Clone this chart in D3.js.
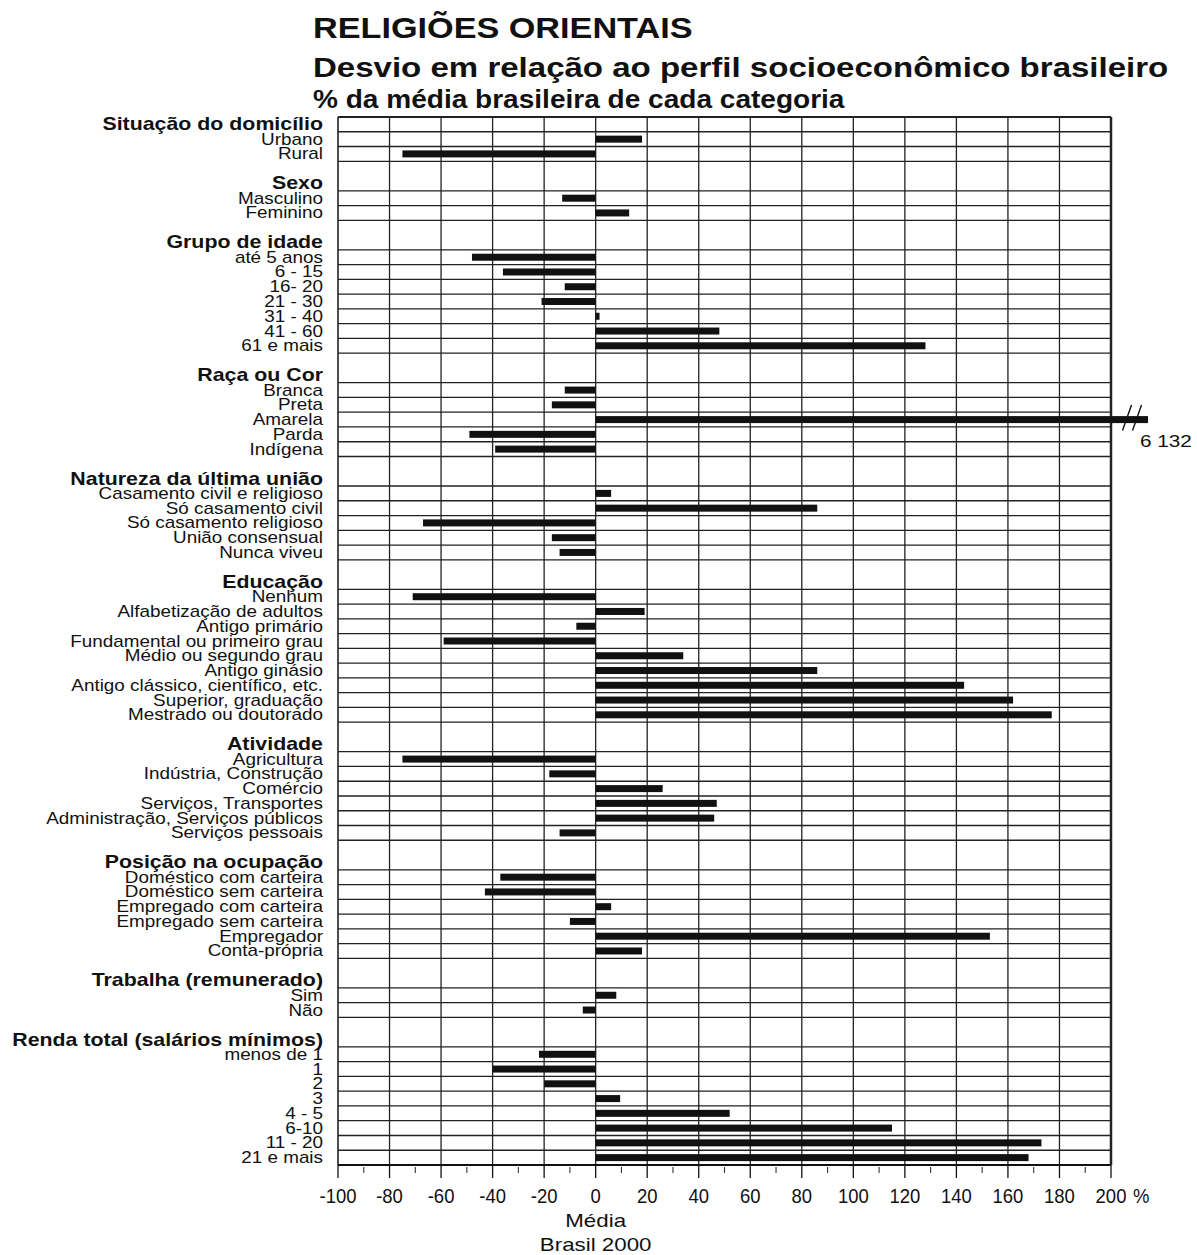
<!DOCTYPE html>
<html><head><meta charset="utf-8">
<script src="https://cdn.jsdelivr.net/npm/d3@7"></script>
<style>
body{margin:0;background:#fff}
svg{display:block}
text{font-family:"Liberation Sans",Arial,Helvetica,sans-serif;fill:#111}
</style>
</head><body>
<svg id="c" width="1197" height="1255"></svg>
<script>
// ---------------- DATA ----------------
const titleLines = [
  "RELIGIÕES ORIENTAIS",
  "Desvio em relação ao perfil socioeconômico brasileiro",
  "% da média brasileira de cada categoria"
];
const groupTitles = [
  "Situação do domicílio", "Sexo", "Grupo de idade", "Raça ou Cor",
  "Natureza da última união", "Educação", "Atividade",
  "Posição na ocupação", "Trabalha (remunerado)", "Renda total (salários mínimos)"
];
const categories = [
  ["Urbano", "Rural"],
  ["Masculino", "Feminino"],
  ["até 5 anos", "6 - 15", "16- 20", "21 - 30", "31 - 40", "41 - 60", "61 e mais"],
  ["Branca", "Preta", "Amarela", "Parda", "Indígena"],
  ["Casamento civil e religioso", "Só casamento civil", "Só casamento religioso", "União consensual", "Nunca viveu"],
  ["Nenhum", "Alfabetização de adultos", "Antigo primário", "Fundamental ou primeiro grau",
   "Médio ou segundo grau", "Antigo ginásio", "Antigo clássico, científico, etc.",
   "Superior, graduação", "Mestrado ou doutorado"],
  ["Agricultura", "Indústria, Construção", "Comércio", "Serviços, Transportes",
   "Administração, Serviços públicos", "Serviços pessoais"],
  ["Doméstico com carteira", "Doméstico sem carteira", "Empregado com carteira",
   "Empregado sem carteira", "Empregador", "Conta-própria"],
  ["Sim", "Não"],
  ["menos de 1", "1", "2", "3", "4 - 5", "6-10", "11 - 20", "21 e mais"]
];
const values = [
  [18, -75],
  [-13, 13],
  [-48, -36, -12, -21, 1.5, 48, 128],
  [-12, -17, 6132, -49, -39],
  [6, 86, -67, -17, -14],
  [-71, 19, -7.5, -59, 34, 86, 143, 162, 177],
  [-75, -18, 26, 47, 46, -14],
  [-37, -43, 6, -10, 153, 18],
  [8, -5],
  [-22, -40, -20, 9.5, 52, 115, 173, 168]
];
const majorTicks = [-100, -80, -60, -40, -20, 0, 20, 40, 60, 80, 100, 120, 140, 160, 180, 200];
const minorTicks = [-90, -70, -50, -30, -10, 10, 30, 50, 70, 90, 110, 130, 150, 170, 190];
const brokenLabel = "6 132";
const unitLabel = "%";
const axisTitle = ["Média", "Brasil 2000"];

// ---------------- LAYOUT ----------------
const svg = d3.select("#c");
const x = d3.scaleLinear().domain([-100, 200]).range([338, 1111]);

const rows = [];
let u = 0;
groupTitles.forEach((g, i) => {
  const h = i === 0 ? 1 : 2;
  rows.push({type: "header", label: g, u0: u, u1: u + h});
  u += h;
  categories[i].forEach((c, j) => {
    rows.push({type: "cat", label: c, value: values[i][j], u0: u, u1: u + 1});
    u += 1;
  });
});
const totalUnits = u;
const y = d3.scaleLinear().domain([0, totalUnits]).range([117, 1165]);

function stretched(sel, tx, ty, sx) {
  sel.attr("x", 0).attr("y", 0).attr("transform", `translate(${tx},${ty}) scale(${sx},1)`);
  return sel;
}

// Titles
const titleSizes = [29, 28, 25.5];
const titleScale = [1.18, 1.18, 1.1];
const titleBase = [38, 77, 108];
titleLines.forEach((t, i) => {
  stretched(svg.append("text").text(t), 313, titleBase[i], titleScale[i])
    .attr("font-size", titleSizes[i]).attr("font-weight", "bold");
});

// Grid
const grid = svg.append("g");
const boundaries = rows.map(r => r.u0).concat([totalUnits]);
grid.selectAll("line.h").data(boundaries).join("line")
  .attr("x1", x(-100)).attr("x2", x(200))
  .attr("y1", d => y(d)).attr("y2", d => y(d))
  .attr("stroke", "#222").attr("stroke-width", (d) => d === 0 ? 2 : 1.3);
grid.selectAll("line.v").data(majorTicks).join("line")
  .attr("y1", y(0)).attr("y2", y(totalUnits))
  .attr("x1", d => x(d)).attr("x2", d => x(d))
  .attr("stroke", "#222").attr("stroke-width", d => d === 200 ? 2.5 : (d === -100 ? 1.6 : 1.3));

// Labels
const lab = svg.append("g");
rows.forEach(r => {
  if (r.type === "header") {
    stretched(lab.append("text").text(r.label), 323, y(r.u1 - 0.5) + 6, 1.22)
      .attr("text-anchor", "end").attr("font-size", 17.5).attr("font-weight", "bold");
  } else {
    stretched(lab.append("text").text(r.label), 323, y(r.u0 + 0.5) + 5.5, 1.18)
      .attr("text-anchor", "end").attr("font-size", 16);
  }
});

// Bars
const catRows = rows.filter(r => r.type === "cat");
const maxV = x.domain()[1];
const breakExtra = 37;
const barH = 7;
svg.append("g").selectAll("rect").data(catRows).join("rect")
  .attr("x", d => Math.min(x(0), x(d.value)))
  .attr("width", d => d.value > maxV ? (x(maxV) + breakExtra - x(0)) : Math.abs(x(d.value) - x(0)))
  .attr("y", d => y(d.u0 + 0.5) - barH / 2)
  .attr("height", barH)
  .attr("fill", "#111");

// Break marks for values beyond the axis
const broken = catRows.filter(d => d.value > maxV);
broken.forEach(d => {
  const cy = y(d.u0 + 0.5);
  const bx = x(maxV);
  [0, 10].forEach(off => {
    svg.append("line")
      .attr("x1", bx + 11.5 + off).attr("y1", cy + 11)
      .attr("x2", bx + 20.5 + off).attr("y2", cy - 14.5)
      .attr("stroke", "#111").attr("stroke-width", 1.4);
  });
  stretched(svg.append("text").text(brokenLabel), bx + 29, cy + 27.5, 1.22)
    .attr("font-size", 17);
});

// Bottom axis
const ax = svg.append("g");
const yAxis = y(totalUnits);
ax.append("line").attr("x1", x(-100)).attr("x2", x(200))
  .attr("y1", yAxis).attr("y2", yAxis).attr("stroke", "#111").attr("stroke-width", 2);
ax.selectAll("line.maj").data(majorTicks).join("line")
  .attr("x1", d => x(d)).attr("x2", d => x(d))
  .attr("y1", yAxis).attr("y2", yAxis + 13)
  .attr("stroke", "#111").attr("stroke-width", 1.3);
ax.selectAll("line.min").data(minorTicks).join("line")
  .attr("class", "min")
  .attr("x1", d => x(d)).attr("x2", d => x(d))
  .attr("y1", yAxis + 2).attr("y2", yAxis + 8)
  .attr("stroke", "#333").attr("stroke-width", 1.1);
majorTicks.forEach(t => {
  stretched(ax.append("text").text(String(t)), x(t), yAxis + 38, 0.88)
    .attr("text-anchor", "middle").attr("font-size", 21);
});
stretched(ax.append("text").text(unitLabel), x(200) + 22, yAxis + 38, 0.88)
  .attr("font-size", 21);
axisTitle.forEach((t, i) => {
  stretched(ax.append("text").text(t), x(0), yAxis + 62 + i * 24, 1.24)
    .attr("text-anchor", "middle").attr("font-size", 18);
});
</script>
</body></html>
